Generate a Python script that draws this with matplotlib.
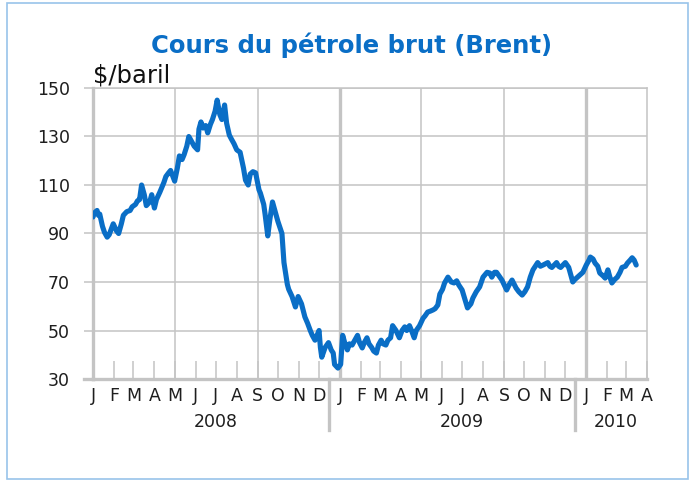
import matplotlib
matplotlib.use("Agg")
from matplotlib import pyplot as plt
from matplotlib.patches import Rectangle
import pandas as pd

# Brent price ($/baril)
dates_2008 = ["2008-01-01", "2008-01-03", "2008-01-07", "2008-01-09", "2008-01-11", "2008-01-15",
              "2008-01-18", "2008-01-22", "2008-01-25", "2008-01-29", "2008-01-31", "2008-02-05",
              "2008-02-08", "2008-02-12", "2008-02-15", "2008-02-20", "2008-02-25", "2008-02-28",
              "2008-03-04", "2008-03-07", "2008-03-10", "2008-03-13", "2008-03-17", "2008-03-20",
              "2008-03-25", "2008-03-28", "2008-04-01", "2008-04-04", "2008-04-09", "2008-04-15",
              "2008-04-18", "2008-04-22", "2008-04-25", "2008-04-29", "2008-05-01", "2008-05-05",
              "2008-05-08", "2008-05-12", "2008-05-15", "2008-05-19", "2008-05-22", "2008-05-27",
              "2008-05-30", "2008-06-04", "2008-06-06", "2008-06-09", "2008-06-12", "2008-06-16",
              "2008-06-19", "2008-06-23", "2008-06-26", "2008-06-30", "2008-07-03", "2008-07-07",
              "2008-07-10", "2008-07-14", "2008-07-17", "2008-07-21", "2008-07-24", "2008-07-28",
              "2008-08-01", "2008-08-06", "2008-08-11", "2008-08-14", "2008-08-18", "2008-08-21",
              "2008-08-25", "2008-08-29", "2008-09-03", "2008-09-05", "2008-09-10", "2008-09-12",
              "2008-09-16", "2008-09-19", "2008-09-23", "2008-09-26", "2008-10-01", "2008-10-07",
              "2008-10-10", "2008-10-15", "2008-10-17", "2008-10-22", "2008-10-27", "2008-10-31",
              "2008-11-05", "2008-11-10", "2008-11-14", "2008-11-18", "2008-11-21", "2008-11-25",
              "2008-12-01", "2008-12-03", "2008-12-05", "2008-12-10", "2008-12-15", "2008-12-19",
              "2008-12-22", "2008-12-24", "2008-12-29"]
prices_2008 = [96.8, 98.5, 99.5, 97.5, 98.0, 93.0,
               90.5, 88.5, 89.5, 92.5, 94.0, 91.0,
               90.0, 94.0, 97.5, 99.0, 99.5, 101.0,
               102.0, 103.5, 104.0, 110.0, 106.0, 101.5,
               103.0, 106.0, 100.5, 104.0, 107.0, 111.0,
               113.5, 115.0, 116.0, 113.0, 111.6, 117.0,
               122.0, 120.5, 122.5, 126.0, 130.0, 127.5,
               126.0, 124.5, 133.0, 136.0, 133.5, 134.5,
               131.5, 135.0, 137.0, 140.5, 145.0, 139.0,
               137.0, 143.0, 135.5, 130.6, 129.0, 127.0,
               124.5, 123.5, 117.0, 112.0, 110.0, 114.5,
               115.5, 115.0, 108.0, 106.7, 102.0, 98.0,
               89.0, 95.6, 103.0, 100.0, 95.0, 90.0,
               78.0, 69.0, 67.0, 64.0, 59.7, 64.0,
               61.0, 55.6, 53.0, 50.0, 48.0, 46.0,
               50.0, 43.0, 39.0, 43.0, 45.0, 42.0,
               40.7, 36.0, 34.5]

dates_2009 = ["2009-01-02", "2009-01-05", "2009-01-08", "2009-01-12", "2009-01-15", "2009-01-19",
              "2009-01-23", "2009-01-27", "2009-01-30", "2009-02-03", "2009-02-06", "2009-02-10",
              "2009-02-13", "2009-02-17", "2009-02-20", "2009-02-24", "2009-02-27", "2009-03-03",
              "2009-03-06", "2009-03-10", "2009-03-13", "2009-03-17", "2009-03-20", "2009-03-25",
              "2009-03-30", "2009-04-03", "2009-04-07", "2009-04-10", "2009-04-14", "2009-04-17",
              "2009-04-21", "2009-04-24", "2009-04-29", "2009-05-04", "2009-05-07", "2009-05-11",
              "2009-05-15", "2009-05-19", "2009-05-22", "2009-05-26", "2009-05-29", "2009-06-02",
              "2009-06-05", "2009-06-10", "2009-06-15", "2009-06-19", "2009-06-23", "2009-06-26",
              "2009-07-01", "2009-07-06", "2009-07-09", "2009-07-14", "2009-07-17", "2009-07-22",
              "2009-07-27", "2009-08-01", "2009-08-07", "2009-08-11", "2009-08-14", "2009-08-18",
              "2009-08-21", "2009-08-29", "2009-09-05", "2009-09-09", "2009-09-13", "2009-09-19",
              "2009-09-23", "2009-09-28", "2009-10-02", "2009-10-06", "2009-10-10", "2009-10-14",
              "2009-10-21", "2009-10-25", "2009-10-29", "2009-11-05", "2009-11-08", "2009-11-11",
              "2009-11-18", "2009-11-21", "2009-11-24", "2009-12-01", "2009-12-06", "2009-12-12",
              "2009-12-15", "2009-12-19", "2009-12-23", "2009-12-27"]
prices_2009 = [36.0, 48.0, 45.0, 42.0, 44.5, 44.0,
               46.0, 48.0, 45.0, 42.8, 45.0, 47.0,
               44.5, 43.0, 41.5, 40.7, 44.0, 46.0,
               44.5, 44.0, 46.0, 47.0, 52.0, 50.0,
               47.0, 50.0, 51.5, 50.0, 52.0, 50.0,
               47.0, 50.0, 52.0, 55.0, 56.0, 57.6,
               58.0, 58.5, 59.0, 60.5, 65.0, 67.0,
               69.6, 72.0, 70.0, 69.6, 70.5, 68.8,
               66.7, 62.0, 59.3, 61.0, 63.4, 66.0,
               68.0, 72.0, 74.0, 73.7, 72.0, 74.0,
               74.0, 70.8, 66.7, 69.0, 70.8, 67.5,
               66.0, 64.6, 66.0, 68.0, 72.0, 75.0,
               78.0, 76.5, 77.0, 78.0, 76.5, 76.0,
               78.0, 76.5, 76.0, 78.0, 76.0, 70.0,
               71.0, 72.0, 73.0, 74.0]

dates_2010 = ["2010-01-01", "2010-01-05", "2010-01-07", "2010-01-11", "2010-01-14", "2010-01-18",
              "2010-01-21", "2010-01-26", "2010-01-29", "2010-02-02", "2010-02-05", "2010-02-08",
              "2010-02-12", "2010-02-16", "2010-02-20", "2010-02-23", "2010-02-28", "2010-03-03",
              "2010-03-07", "2010-03-10", "2010-03-13", "2010-03-16"]
prices_2010 = [77.0, 79.0, 80.3, 79.5, 77.8, 76.5,
               73.7, 72.5, 71.6, 75.0, 72.0, 69.6,
               71.0, 72.0, 74.0, 76.0, 76.5, 77.8,
               79.0, 80.0, 79.0, 77.0]

month_labels = list("JFMAMJJASOND") * 2 + list("JFMA")
year_labels = ["2008", "2009", "2010"]
year_label_pos = ["2008-07-01", "2009-07-01", "2010-02-14"]
year_breaks = ["2008-12-16", "2009-12-16"]

plt.rcParams['font.family'] = ['DejaVu Sans']

dates = pd.to_datetime(dates_2008 + dates_2009 + dates_2010)
prices = prices_2008 + prices_2009 + prices_2010

grid_c = '#c4c4c4'
blue = '#0a6ec6'
txt_c = '#1e1e1e'

fig = plt.figure(figsize=(6.95, 4.83), dpi=100)
ax = fig.add_axes([93 / 695, 104 / 483, 554 / 695, 291 / 483])

x0, x1 = pd.Timestamp("2008-01-01"), pd.Timestamp("2010-04-01")
ax.set_xlim(x0, x1)
ax.set_ylim(30, 150)

# grid
for v in range(30, 151, 20):
    ax.axhline(v, color=grid_c, lw=1.1, zorder=1)
for d in ["2008-05-01", "2008-09-01", "2009-05-01", "2009-09-01"]:
    ax.axvline(pd.Timestamp(d), color=grid_c, lw=1.1, zorder=1)
for d in ["2009-01-01", "2010-01-01"]:
    ax.axvline(pd.Timestamp(d), color=grid_c, lw=2.4, zorder=1)

ax.plot(dates, prices, color=blue, lw=3.7, solid_joinstyle='round',
        solid_capstyle='round', zorder=3)

for s in ['top', 'right']:
    ax.spines[s].set_color(grid_c)
    ax.spines[s].set_linewidth(1.1)
ax.spines['left'].set_color(grid_c)
ax.spines['left'].set_linewidth(2.4)
ax.spines['bottom'].set_color(grid_c)
ax.spines['bottom'].set_linewidth(2.4)
ax.axhline(30, xmin=-0.017, xmax=0, color=grid_c, lw=2.4, clip_on=False)

months = pd.date_range(x0, x1, freq='MS')
ax.set_xticks(months)
ax.set_xticklabels(month_labels)
ax.tick_params(axis='x', direction='in', length=13, width=1.1, color=grid_c,
               labelsize=12.5, pad=6, labelcolor=txt_c)
ax.set_yticks(range(30, 151, 20))
ax.tick_params(axis='y', direction='out', length=6.5, width=1.1, color=grid_c,
               labelsize=12.5, pad=10, labelcolor=txt_c)

trans = ax.get_xaxis_transform()
for d in year_breaks:
    ax.plot([pd.Timestamp(d)] * 2, [0, -0.175], transform=trans, color=grid_c,
            lw=2.4, clip_on=False)
for lab, d in zip(year_labels, year_label_pos):
    ax.text(pd.Timestamp(d), -0.148, lab, transform=trans, ha='center', va='center',
            fontsize=12.5, color=txt_c)

fig.text(93 / 695, 1 - 75 / 483, "$/baril", ha='left', va='center', fontsize=17.5,
         color='#111111')
fig.text(352 / 695, 1 - 45 / 483, "Cours du pétrole brut (Brent)", ha='center',
         va='center', fontsize=17.5, fontweight='bold', color=blue)

fig.patches.append(Rectangle((7 / 695, 4 / 483), 681 / 695, 476 / 483,
                             transform=fig.transFigure, fill=False,
                             edgecolor='#98c4ea', lw=1.2))

fig.savefig("out.png", dpi=100)
